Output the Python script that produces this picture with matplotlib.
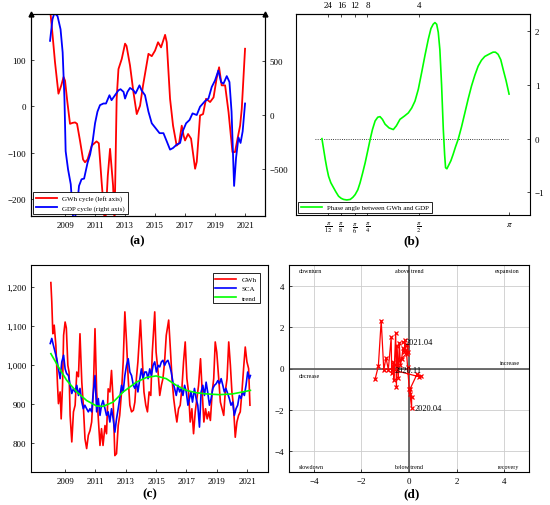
import numpy as np
import matplotlib.pyplot as plt
from matplotlib.ticker import FuncFormatter

plt.rcParams['font.family'] = ['Liberation Serif', 'DejaVu Serif']
plt.rcParams['mathtext.fontset'] = 'stix'

# (a) cycles: GWh (left axis) and GDP (right axis)
gwh_cyc_t = [2008.0, 2008.15, 2008.33, 2008.56, 2008.75, 2008.9, 2009.0, 2009.15, 2009.33,
             2009.5, 2009.67, 2009.8, 2010.0, 2010.2, 2010.33, 2010.5, 2010.78, 2011.1,
             2011.25, 2011.44, 2011.67, 2011.85, 2012.0, 2012.2, 2012.3, 2012.44, 2012.56,
             2012.78, 2013.0, 2013.1, 2013.33, 2013.56, 2013.78, 2014.0, 2014.2, 2014.56,
             2014.78, 2015.0, 2015.2, 2015.4, 2015.67, 2015.78, 2016.0, 2016.2, 2016.44,
             2016.6, 2016.78, 2016.9, 2017.0, 2017.2, 2017.4, 2017.67, 2017.78, 2018.0,
             2018.2, 2018.4, 2018.67, 2018.9, 2019.1, 2019.27, 2019.44, 2019.67, 2019.9,
             2020.16, 2020.33, 2020.5, 2020.67, 2020.78, 2021.0]
gwh_cyc_v = [210, 160, 95, 27, 45, 63, 55, 10, -38, -36, -35, -38, -75, -115, -121, -115,
             -85, -76, -80, -164, -260, -150, -92, -171, -250, 16, 80, 102, 135, 130, 88,
             30, -17, 1, 45, 113, 108, 120, 138, 127, 154, 138, 16, -42, -85, -80, -42,
             -63, -74, -60, -70, -135, -120, -20, -17, 16, 9, 19, 59, 84, 45, 45, -13,
             -99, -99, -70, -42, -6, 124]

gdp_cyc_t = [2008.0, 2008.16, 2008.29, 2008.5, 2008.7, 2008.84, 2008.96, 2009.04, 2009.2,
             2009.38, 2009.56, 2009.78, 2009.93, 2010.1, 2010.27, 2010.5, 2010.67, 2010.84,
             2011.0, 2011.16, 2011.33, 2011.56, 2011.73, 2011.96, 2012.1, 2012.33, 2012.56,
             2012.7, 2012.9, 2013.0, 2013.16, 2013.33, 2013.56, 2013.7, 2013.96, 2014.1,
             2014.33, 2014.56, 2014.78, 2015.04, 2015.3, 2015.56, 2015.78, 2016.0, 2016.2,
             2016.44, 2016.67, 2016.84, 2017.07, 2017.3, 2017.5, 2017.78, 2018.0, 2018.33,
             2018.56, 2018.78, 2019.0, 2019.22, 2019.4, 2019.56, 2019.78, 2019.96, 2020.1,
             2020.27, 2020.4, 2020.56, 2020.7, 2020.84, 2021.0]
gdp_cyc_v = [690, 890, 950, 920, 798, 583, 153, -337, -506, -644, -1000, -890, -660, -598,
             -592, -445, -368, -245, -77, 31, 92, 107, 107, 184, 138, 184, 230, 240, 215,
             153, 215, 252, 230, 200, 276, 230, 184, 31, -77, -123, -169, -169, -245, -322,
             -307, -276, -260, -153, -77, -46, 15, 0, 77, 129, 153, 261, 322, 414, 307,
             291, 362, 307, 31, -660, -399, -209, -260, -153, 107]

# (b) phase angle across frequencies
freq_pos = [0.55, 0.68, 0.8, 0.92, 1.05, 1.22, 1.42, 1.6, 1.8, 2.0, 2.18, 2.42, 2.68, 2.88,
            3.05, 3.25, 3.42, 3.6, 3.8, 4.0, 4.18, 4.35, 4.55, 4.75, 4.92, 5.1, 5.3, 5.6,
            5.92, 6.15, 6.42, 6.75, 7.05, 7.3, 7.55, 7.8, 8.05, 8.3, 8.55, 8.75, 8.92, 9.05,
            9.18, 9.3, 9.42, 9.55, 9.68, 9.78, 9.85, 9.95, 10.05, 10.25, 10.42, 10.6, 10.8,
            11.05, 11.3, 11.55, 11.8, 12.05, 12.3, 12.55, 12.8, 13.1, 13.42, 13.6, 13.8,
            14.0, 14.18, 14.4, 14.625]
phase = [0.0, -0.2, -0.385, -0.55, -0.70, -0.82, -0.91, -0.99, -1.07, -1.11, -1.13, -1.14,
         -1.13, -1.09, -1.04, -0.95, -0.82, -0.65, -0.45, -0.22, -0.01, 0.17, 0.33, 0.40,
         0.41, 0.36, 0.27, 0.2, 0.17, 0.24, 0.36, 0.42, 0.48, 0.57, 0.70, 0.92, 1.23, 1.55,
         1.85, 2.05, 2.13, 2.16, 2.13, 1.98, 1.66, 1.0, 0.17, -0.3, -0.54, -0.56, -0.51,
         -0.41, -0.29, -0.15, -0.01, 0.22, 0.48, 0.74, 0.98, 1.18, 1.35, 1.46, 1.53, 1.57,
         1.61, 1.61, 1.57, 1.47, 1.29, 1.08, 0.83]
freq_ticks = [1, 2, 3, 3.975, 7.85, 14.625]
freq_labels = [r'$\frac{\pi}{12}$', r'$\frac{\pi}{8}$', r'$\frac{\pi}{6}$',
               r'$\frac{\pi}{4}$', r'$\frac{\pi}{2}$', r'$\pi$']
period_labels = ['24', '16', '12', '8', '4']

# (c) levels: GWh, SCA, trend
gwh_t = [2008.06, 2008.12, 2008.19, 2008.28, 2008.39, 2008.5, 2008.56, 2008.67, 2008.74,
         2008.83, 2008.9, 2009.0, 2009.08, 2009.18, 2009.26, 2009.33, 2009.44, 2009.55,
         2009.66, 2009.77, 2009.88, 2009.98, 2010.1, 2010.2, 2010.31, 2010.42, 2010.53,
         2010.64, 2010.75, 2010.86, 2010.97, 2011.08, 2011.19, 2011.3, 2011.4, 2011.5,
         2011.63, 2011.73, 2011.84, 2011.95, 2012.06, 2012.17, 2012.28, 2012.39, 2012.5,
         2012.6, 2012.72, 2012.83, 2012.94, 2013.05, 2013.16, 2013.27, 2013.38, 2013.5,
         2013.6, 2013.7, 2013.8, 2013.97, 2014.1, 2014.2, 2014.32, 2014.43, 2014.54,
         2014.65, 2014.75, 2014.91, 2015.0, 2015.13, 2015.24, 2015.35, 2015.45, 2015.56,
         2015.67, 2015.83, 2015.94, 2016.05, 2016.16, 2016.27, 2016.37, 2016.48, 2016.59,
         2016.7, 2016.81, 2016.92, 2017.03, 2017.14, 2017.25, 2017.36, 2017.47, 2017.58,
         2017.69, 2017.8, 2017.93, 2018.04, 2018.15, 2018.26, 2018.37, 2018.47, 2018.58,
         2018.7, 2018.8, 2018.9, 2019.0, 2019.13, 2019.24, 2019.35, 2019.46, 2019.56,
         2019.68, 2019.79, 2019.9, 2020.0, 2020.1, 2020.22, 2020.33, 2020.44, 2020.55,
         2020.66, 2020.77, 2020.88, 2020.99, 2021.1, 2021.19]
gwh_v = [1211, 1162, 1080, 1102, 1050, 948, 901, 931, 862, 948, 1076, 1110, 1095, 999,
         982, 871, 803, 880, 897, 982, 970, 1080, 956, 897, 811, 786, 820, 832, 854, 931,
         1093, 931, 862, 794, 837, 794, 845, 824, 939, 931, 986, 905, 768, 773, 845, 871,
         931, 1008, 1136, 1059, 965, 897, 880, 884, 905, 965, 1008, 1115, 1008, 931, 897,
         880, 931, 922, 1033, 1136, 1033, 982, 922, 948, 965, 1008, 1076, 1115, 1042, 965,
         914, 880, 854, 888, 897, 939, 1008, 1059, 965, 931, 854, 888, 824, 880, 914, 948,
         1016, 931, 854, 888, 862, 880, 858, 931, 965, 1059, 1033, 965, 905, 888, 871,
         931, 965, 1059, 999, 931, 897, 815, 854, 871, 880, 931, 991, 1046, 1008, 991, 897]

sca_t = [2008.02, 2008.12, 2008.23, 2008.34, 2008.45, 2008.56, 2008.67, 2008.78, 2008.9,
         2009.0, 2009.1, 2009.22, 2009.33, 2009.44, 2009.55, 2009.66, 2009.77, 2009.88,
         2009.98, 2010.1, 2010.2, 2010.3, 2010.42, 2010.53, 2010.64, 2010.75, 2010.86,
         2010.97, 2011.08, 2011.19, 2011.3, 2011.4, 2011.5, 2011.63, 2011.73, 2011.84,
         2011.95, 2012.06, 2012.17, 2012.28, 2012.39, 2012.5, 2012.6, 2012.72, 2012.83,
         2012.94, 2013.05, 2013.16, 2013.27, 2013.38, 2013.5, 2013.6, 2013.7, 2013.8,
         2013.93, 2014.03, 2014.14, 2014.25, 2014.36, 2014.47, 2014.58, 2014.69, 2014.8,
         2014.91, 2015.02, 2015.13, 2015.24, 2015.35, 2015.45, 2015.56, 2015.67, 2015.78,
         2015.89, 2016.0, 2016.11, 2016.22, 2016.33, 2016.44, 2016.55, 2016.66, 2016.77,
         2016.88, 2016.99, 2017.1, 2017.2, 2017.3, 2017.4, 2017.53, 2017.64, 2017.75,
         2017.86, 2017.97, 2018.08, 2018.19, 2018.3, 2018.4, 2018.52, 2018.63, 2018.74,
         2018.85, 2018.96, 2019.07, 2019.18, 2019.29, 2019.4, 2019.5, 2019.6, 2019.72,
         2019.83, 2019.94, 2020.05, 2020.16, 2020.27, 2020.38, 2020.49, 2020.6, 2020.71,
         2020.82, 2020.93, 2021.04, 2021.15, 2021.22]
sca_v = [1055, 1068, 1050, 1033, 1016, 990, 965, 1008, 1025, 990, 978, 973, 948, 927, 940,
         931, 948, 922, 940, 905, 888, 897, 888, 880, 888, 880, 931, 973, 880, 914, 871,
         897, 909, 888, 871, 880, 854, 888, 862, 828, 862, 888, 914, 948, 931, 973, 999,
         1016, 982, 973, 948, 940, 956, 931, 965, 990, 965, 982, 982, 965, 990, 973, 999,
         1008, 982, 999, 995, 1008, 1012, 999, 1008, 1012, 999, 982, 956, 940, 922, 948,
         931, 940, 922, 948, 931, 897, 914, 931, 905, 940, 914, 897, 841, 931, 948, 922,
         956, 931, 897, 914, 940, 948, 952, 960, 952, 965, 948, 931, 940, 927, 914, 897,
         905, 871, 888, 897, 922, 914, 931, 922, 948, 982, 965, 973]

trend_t = [2008.06, 2008.56, 2009.1, 2009.77, 2010.42, 2011.08, 2011.5, 2012.17, 2012.83,
           2013.7, 2014.36, 2015.0, 2015.67, 2016.33, 2017.0, 2017.64, 2018.3, 2019.18,
           2020.05, 2020.71, 2021.22]
trend_v = [1029, 995, 961, 931, 909, 895, 894, 905, 931, 956, 968, 972, 965, 948, 935, 929,
           926, 924, 926, 931, 935]

# (d) cycle clock
clock_x = [-1.43, -1.29, -1.17, -1.06, -0.97, -0.87, -0.75, -0.73, -0.66, -0.64, -0.56,
           -0.53, -0.50, -0.45, -0.41, -0.36, -0.31, -0.25, -0.20, -0.17, -0.13, -0.10,
           -0.06, 0.01, 0.11, 0.11, 0.06, 0.04, 0.34, 0.50, 0.43, -0.73, -0.03, -0.08,
           -0.27]
clock_y = [-0.53, 0.11, 2.31, -0.08, 0.53, -0.05, 1.50, -0.24, 0.30, -0.56, 1.73, -0.89,
           1.10, -0.48, 1.25, 0.16, 0.48, 0.97, 0.80, 1.37, 0.89, 0.70, 0.08, -0.97, -1.89,
           -1.37, -1.21, -1.00, -0.27, -0.37, -0.40, -0.05, 0.81, 1.13, 1.29]
clock_marked = {24: '2020.04', 31: '2020.11', 34: '2021.04'}

RED, BLUE, GREEN = '#ff0000', '#0000ff', '#00ff00'
TICK = 6.5

fig = plt.figure(figsize=(5.5, 5.06), dpi=100)
W, H = 550, 506


def box(l, t, r, b):
    return [l / W, 1 - b / H, (r - l) / W, (b - t) / H]


# ---- (a)
ax1 = fig.add_axes(box(31, 15, 265, 217))
ax1.plot(gwh_cyc_t, gwh_cyc_v, color=RED, lw=1.3, label='GWh cycle (left axis)')
ax1.set_xlim(2006.73, 2022.33)
ax1.set_ylim(-237, 199)
ax1.set_yticks([-200, -100, 0, 100])
ax1.set_yticklabels(['\u2212200', '\u2212100', '0', '100'])
ax1.set_xticks(range(2009, 2022, 2))
ax1.tick_params(labelsize=TICK, direction='in', length=2, width=0.5)
ax1b = ax1.twinx()
ax1b.plot(gdp_cyc_t, gdp_cyc_v, color=BLUE, lw=1.3, label='GDP cycle (right axis)')
ax1b.set_ylim(-940, 940)
ax1b.set_yticks([-500, 0, 500])
ax1b.set_yticklabels(['\u2212500', '0', '500'])
ax1b.tick_params(labelsize=TICK, direction='in', length=2, width=0.5)
for a in (ax1, ax1b):
    for s in a.spines.values():
        s.set_linewidth(0.8)
for xa in (0, 1):
    ax1.plot([xa], [1.0], marker='^', color='black', ms=3.5, transform=ax1.transAxes,
             clip_on=False)
h1, l1 = ax1.get_legend_handles_labels()
h2, l2 = ax1b.get_legend_handles_labels()
leg = ax1b.legend(h1 + h2, l1 + l2, loc='lower left', fontsize=5, fancybox=False,
                  edgecolor='black', framealpha=1, handlelength=3, borderaxespad=0.3)
leg.get_frame().set_linewidth(0.6)

# ---- (b)
ax2 = fig.add_axes(box(296, 15, 530, 216))
ax2.plot([0, freq_ticks[-1]], [0, 0], color='black', ls=':', lw=0.6)
ax2.plot(freq_pos, phase, color=GREEN, lw=1.2, label='Phase angle between GWh and GDP')
ax2.set_xlim(-1.4, 16.2)
ax2.set_ylim(-1.42, 2.32)
ax2.set_xticks(freq_ticks)
ax2.set_xticklabels(freq_labels, fontsize=6)
ax2.yaxis.tick_right()
ax2.set_yticks([-1, 0, 1, 2])
ax2.set_yticklabels(['\u22121', '0', '1', '2'])
ax2.tick_params(labelsize=TICK, direction='in', length=2, width=0.5)
top = ax2.secondary_xaxis('top')
top.set_xticks(freq_ticks[:-1])
top.set_xticklabels(period_labels)
top.tick_params(labelsize=TICK, direction='in', length=2, width=0.5)
leg = ax2.legend(loc='lower left', fontsize=5, fancybox=False, edgecolor='black',
                 framealpha=1, handlelength=3, borderaxespad=0.3)
leg.get_frame().set_linewidth(0.6)

# ---- (c)
ax3 = fig.add_axes(box(31, 266, 268, 473))
ax3.plot(gwh_t, gwh_v, color=RED, lw=1.2, label='GWh')
ax3.plot(sca_t, sca_v, color=BLUE, lw=1.2, label='SCA')
ax3.plot(trend_t, trend_v, color=GREEN, lw=1.2, label='trend')
ax3.set_xlim(2006.75, 2022.38)
ax3.set_ylim(726, 1256)
ax3.set_xticks(range(2009, 2022, 2))
ax3.set_yticks([800, 900, 1000, 1100, 1200])
ax3.yaxis.set_major_formatter(FuncFormatter(lambda v, p: f'{int(v):,}'))
ax3.tick_params(labelsize=TICK, direction='in', length=2, width=0.5)
leg = ax3.legend(loc='upper right', fontsize=5, fancybox=False, edgecolor='black',
                 framealpha=1, handlelength=3, borderaxespad=1.2)
leg.get_frame().set_linewidth(0.6)

# ---- (d)
ax4 = fig.add_axes(box(289, 266, 529, 473))
ax4.set_xlim(-5.05, 5.05)
ax4.set_ylim(-5, 5)
ax4.set_xticks([-4, -2, 0, 2, 4])
ax4.set_yticks([-4, -2, 0, 2, 4])
ax4.set_xticklabels(['\u22124', '\u22122', '0', '2', '4'])
ax4.set_yticklabels(['\u22124', '\u22122', '0', '2', '4'])
ax4.grid(True, color='#cccccc', lw=0.6)
ax4.axhline(0, color='#555555', lw=1.2)
ax4.axvline(0, color='#555555', lw=1.2)
ax4.plot(clock_x, clock_y, color=RED, lw=0.9, marker='x', ms=3, mew=0.9)
for i, lab in clock_marked.items():
    ax4.annotate(lab, (clock_x[i], clock_y[i]), xytext=(2, 0), textcoords='offset points',
                 fontsize=6, va='center', ha='left')
ax4.tick_params(labelsize=TICK, direction='in', length=2, width=0.5)
qs = 4.3
ax4.text(-4.65, 4.72, 'downturn', fontsize=qs, ha='left', va='center')
ax4.text(0, 4.72, 'above trend', fontsize=qs, ha='center', va='center')
ax4.text(4.65, 4.72, 'expansion', fontsize=qs, ha='right', va='center')
ax4.text(4.65, 0.3, 'increase', fontsize=qs, ha='right', va='center')
ax4.text(-4.65, -0.32, 'decrease', fontsize=qs, ha='left', va='center')
ax4.text(-4.65, -4.72, 'slowdown', fontsize=qs, ha='left', va='center')
ax4.text(0, -4.72, 'below trend', fontsize=qs, ha='center', va='center')
ax4.text(4.65, -4.75, 'recovery', fontsize=qs, ha='right', va='center')

for a in (ax2, ax3, ax4):
    for s in a.spines.values():
        s.set_linewidth(0.8)

for lab, x, y in [('(a)', 137, 241), ('(b)', 412, 241), ('(c)', 150, 494), ('(d)', 412, 494)]:
    fig.text(x / W, 1 - y / H, lab, fontsize=9.5, fontweight='bold', ha='center', va='center')

fig.savefig('out.png', dpi=100)
